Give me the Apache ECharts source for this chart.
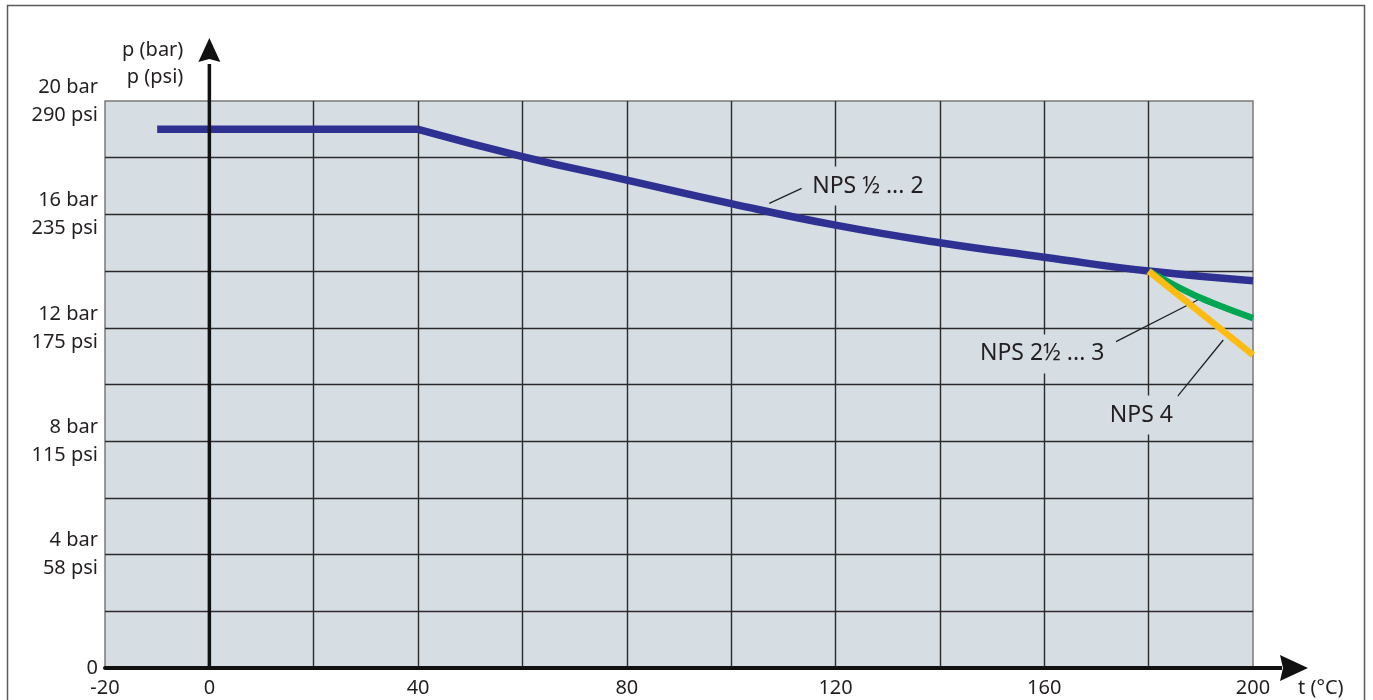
<!DOCTYPE html>
<html>
<head>
<meta charset="utf-8">
<script src="https://cdn.jsdelivr.net/npm/echarts@6/dist/echarts.min.js"></script>
<style>
  html, body { margin: 0; padding: 0; background: #ffffff; }
  #chart { width: 1373px; height: 700px; }
</style>
</head>
<body>
<div id="chart"></div>
<script>
// ---- Data ----
const xTickValues = [-20, 0, 40, 80, 120, 160, 200];
const yTickValues = [0, 4, 8, 12, 16, 20];
const yTickLabels = ['0', '4 bar\n58 psi', '8 bar\n115 psi', '12 bar\n175 psi', '16 bar\n235 psi', '20 bar\n290 psi'];

const nps05to2Temp = [-10, 40, 60, 80, 100, 120, 140, 160, 180, 200];
const nps05to2Pressure = [19, 19, 18.04, 17.21, 16.38, 15.62, 15.0, 14.49, 14.0, 13.66];

const nps25to3Temp = [180, 185, 190, 195, 200];
const nps25to3Pressure = [14.0, 13.5, 13.05, 12.68, 12.34];

const nps4Temp = [180, 200];
const nps4Pressure = [14.0, 11.04];

const labelTexts = ['NPS \u00BD ... 2', 'NPS 2\u00BD ... 3', 'NPS 4'];
const labelAnchors = [[126.2, 17.0], [159.6, 11.08], [178.6, 8.92]];
const leaderStarts = [[107.3, 16.39], [173.75, 11.51], [185.5, 9.57]];
const leaderEnds = [[113.5, 16.92], [189.4, 12.98], [194.3, 11.57]];

// ---- Styles ----
const FONT = 'Noto Sans';
const TXT = '#231f20';
const GRIDBG = '#d6dee4';
const BLUE = '#2e3192';
const GREEN = '#00a651';
const YELLOW = '#fdbb13';

function zip(xs, ys) { return xs.map((x, i) => [x, ys[i]]); }

const bluePts = zip(nps05to2Temp, nps05to2Pressure);
const flatEnd = 2; // first two points: constant section

const chart = echarts.init(document.getElementById('chart'), null, { renderer: 'canvas' });

const option = {
  animation: false,
  backgroundColor: '#ffffff',
  grid: {
    left: 105, right: 120, top: 101, bottom: 32,
    show: true, backgroundColor: GRIDBG, borderColor: '#7a7a7a', borderWidth: 1.5
  },
  xAxis: {
    type: 'value', min: -20, max: 200, interval: 20,
    axisLine: { show: true, onZero: false, lineStyle: { color: '#111', width: 4 } },
    axisTick: { show: false },
    splitLine: { show: true, showMinLine: false, showMaxLine: false, lineStyle: { color: '#2b2b2b', width: 1.4 } },
    axisLabel: {
      margin: 10, fontFamily: FONT, fontSize: 20, color: TXT,
      formatter: v => xTickValues.indexOf(v) >= 0 ? String(v) : ''
    }
  },
  yAxis: {
    type: 'value', min: 0, max: 20, interval: 2,
    axisLine: { show: false },
    axisTick: { show: false },
    splitLine: { show: true, showMinLine: false, showMaxLine: false, lineStyle: { color: '#2b2b2b', width: 1.4 } },
    axisLabel: {
      margin: 7, fontFamily: FONT, fontSize: 20, color: TXT, lineHeight: 28, align: 'right',
      formatter: v => { const i = yTickValues.indexOf(v); return i >= 0 ? yTickLabels[i] : ''; }
    }
  },
  series: [
    {
      type: 'line', data: bluePts.slice(0, flatEnd), showSymbol: false, symbol: 'none',
      lineStyle: { color: BLUE, width: 7.5, cap: 'butt' }, z: 3
    },
    {
      type: 'line', data: bluePts.slice(flatEnd - 1), showSymbol: false, symbol: 'none', smooth: 0.5,
      lineStyle: { color: BLUE, width: 7.5, cap: 'butt' }, z: 3
    },
    {
      type: 'line', data: zip(nps25to3Temp, nps25to3Pressure), showSymbol: false, symbol: 'none', smooth: 0.4,
      lineStyle: { color: GREEN, width: 6.5, cap: 'butt' }, z: 4
    },
    {
      type: 'line', data: zip(nps4Temp, nps4Pressure), showSymbol: false, symbol: 'none',
      lineStyle: { color: YELLOW, width: 6.5, cap: 'butt' }, z: 5,
      markLine: {
        silent: true, symbol: ['none', 'none'], animation: false,
        lineStyle: { color: '#222', width: 1.3, type: 'solid' },
        label: { show: false },
        data: leaderStarts.map((s, i) => [{ coord: s }, { coord: leaderEnds[i] }])
      },
      markPoint: {
        silent: true, symbol: 'circle', symbolSize: 0, animation: false,
        label: {
          show: true, position: 'inside', fontFamily: FONT, fontSize: 23, color: TXT,
          backgroundColor: GRIDBG, padding: [8, 5]
        },
        data: labelAnchors.map((c, i) => ({ coord: c, label: { formatter: labelTexts[i] } }))
      }
    }
  ]
};

chart.setOption(option);

// ---- Decorations: frame, axis arrows, axis names (placed through the chart's scales) ----
const p0 = chart.convertToPixel({ gridIndex: 0 }, [0, 0]);
const pTop = chart.convertToPixel({ gridIndex: 0 }, [0, 20]);
const pRight = chart.convertToPixel({ gridIndex: 0 }, [200, 0]);

const yArrowBase = pTop[1] - 39;
const yArrowTip = pTop[1] - 63;
const xArrowBase = pRight[0] + 27;
const xArrowTip = pRight[0] + 55;

chart.setOption({
  graphic: [
    { type: 'rect', shape: { x: 7.5, y: 5.5, width: 1357, height: 720 },
      style: { fill: 'none', stroke: '#5a5a5a', lineWidth: 1.5 }, z: 1, silent: true },
    { type: 'line', shape: { x1: p0[0], y1: p0[1] + 2, x2: p0[0], y2: yArrowBase + 2 },
      style: { stroke: '#111', lineWidth: 3.5 }, z: 10, silent: true },
    { type: 'polygon', shape: { points: [[p0[0] - 11, yArrowBase], [p0[0], yArrowTip], [p0[0] + 11, yArrowBase], [p0[0], yArrowBase - 3]] },
      style: { fill: '#111' }, z: 10, silent: true },
    { type: 'line', shape: { x1: pRight[0], y1: pRight[1], x2: xArrowBase + 2, y2: pRight[1] },
      style: { stroke: '#111', lineWidth: 4 }, z: 10, silent: true },
    { type: 'polygon', shape: { points: [[xArrowBase, pRight[1] - 13], [xArrowTip, pRight[1]], [xArrowBase, pRight[1] + 13], [xArrowBase + 3, pRight[1]]] },
      style: { fill: '#111' }, z: 10, silent: true },
    { type: 'text', x: p0[0] - 26, y: 64, z: 10, silent: true,
      style: { text: 'p (bar)\np (psi)', fontFamily: FONT, fontSize: 20, fill: TXT, align: 'right', verticalAlign: 'middle', lineHeight: 27 } },
    { type: 'text', x: pRight[0] + 45, y: p0[1] + 20, z: 10, silent: true,
      style: { text: 't (\u00B0C)', fontFamily: FONT, fontSize: 20, fill: TXT, align: 'left', verticalAlign: 'middle' } }
  ]
});
</script>
</body>
</html>
